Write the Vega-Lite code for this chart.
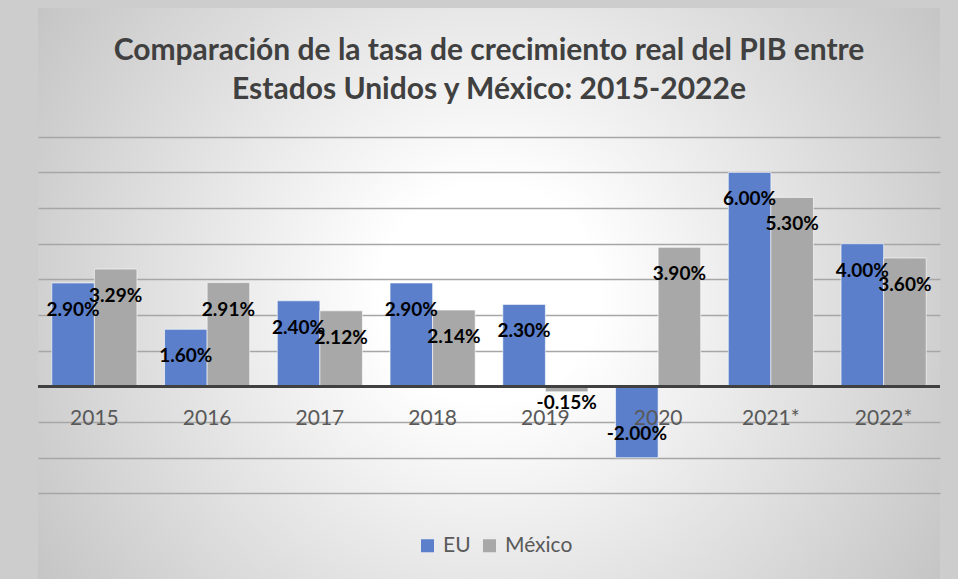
{
  "$schema": "https://vega.github.io/schema/vega-lite/v6.json",
  "width": 902,
  "height": 571,
  "autosize": {"type": "none"},
  "padding": {"left": 38, "top": 8, "right": 18, "bottom": 0},
  "background": "#cdcdcd",
  "view": {
    "stroke": null,
    "fill": {
      "gradient": "radial",
      "x1": 0.5, "y1": 0.5, "r1": 0,
      "x2": 0.5, "y2": 0.5, "r2": 0.6,
      "stops": [
        {"offset": 0, "color": "#ffffff"},
        {"offset": 0.2, "color": "#ffffff"},
        {"offset": 1, "color": "#c4c4c4"}
      ]
    }
  },
  "title": {
    "text": ["Comparación de la tasa de crecimiento real del PIB entre", "Estados Unidos y México: 2015-2022e"],
    "font": "Lato",
    "fontSize": 30,
    "fontWeight": "bold",
    "color": "#404040",
    "lineHeight": 39,
    "anchor": "middle",
    "frame": "group",
    "offset": -97
  },
  "config": {
    "locale": {
      "number": {"decimal": ".", "thousands": ",", "grouping": [3], "currency": ["$", ""], "minus": "-"}
    }
  },
  "data": {
    "values": [
      {"year": "2015", "series": "EU", "value": 0.029},
      {"year": "2015", "series": "México", "value": 0.0329},
      {"year": "2016", "series": "EU", "value": 0.016},
      {"year": "2016", "series": "México", "value": 0.0291},
      {"year": "2017", "series": "EU", "value": 0.024},
      {"year": "2017", "series": "México", "value": 0.0212},
      {"year": "2018", "series": "EU", "value": 0.029},
      {"year": "2018", "series": "México", "value": 0.0214},
      {"year": "2019", "series": "EU", "value": 0.023},
      {"year": "2019", "series": "México", "value": -0.0015},
      {"year": "2020", "series": "EU", "value": -0.02},
      {"year": "2020", "series": "México", "value": 0.039},
      {"year": "2021*", "series": "EU", "value": 0.06},
      {"year": "2021*", "series": "México", "value": 0.053},
      {"year": "2022*", "series": "EU", "value": 0.04},
      {"year": "2022*", "series": "México", "value": 0.036}
    ]
  },
  "layer": [
    {
      "mark": {"type": "bar", "stroke": "#ffffff", "strokeWidth": 1, "strokeOpacity": 0.6},
      "encoding": {
        "x": {"field": "year", "type": "nominal", "sort": null, "axis": null,
              "scale": {"paddingInner": 0.245, "paddingOuter": 0.1225}},
        "xOffset": {"field": "series", "type": "nominal", "sort": ["EU", "México"], "scale": {"paddingInner": 0}},
        "y": {"field": "value", "type": "quantitative",
              "scale": {"domain": [-0.054, 0.1061], "nice": false, "zero": false},
              "axis": {"values": [-0.03, -0.02, -0.01, 0.01, 0.02, 0.03, 0.04, 0.05, 0.06, 0.07],
                       "grid": true, "gridColor": "#a6a6a6", "gridWidth": 1.3,
                       "labels": false, "ticks": false, "domain": false, "title": null}},
        "color": {"field": "series", "type": "nominal",
                  "scale": {"domain": ["EU", "México"], "range": ["#5b7fca", "#a8a8a8"]},
                  "legend": {"orient": "none", "legendX": 379, "legendY": 527, "direction": "horizontal", "title": null,
                             "symbolType": "square", "symbolSize": 169, "symbolStrokeWidth": 0,
                             "labelFont": "Lato", "labelFontSize": 21, "labelColor": "#595959",
                             "labelOffset": 5, "columnPadding": 8}}
      }
    },
    {
      "mark": {"type": "rule", "color": "#404040", "strokeWidth": 3},
      "encoding": {"y": {"datum": 0}}
    },
    {
      "mark": {"type": "text", "font": "Lato", "fontWeight": "bold", "fontSize": 19, "color": "#000000",
               "baseline": "middle", "align": "center",
               "dy": {"expr": "datum.value >= 0 ? 27 : (datum.value > -0.01 ? 11 : -24)"}},
      "encoding": {
        "x": {"field": "year", "type": "nominal", "sort": null, "axis": null},
        "xOffset": {"field": "series", "type": "nominal", "sort": ["EU", "México"]},
        "y": {"field": "value", "type": "quantitative"},
        "text": {"field": "value", "type": "quantitative", "format": ".2%"}
      }
    },
    {
      "transform": [{"filter": "datum.series == 'EU'"}],
      "mark": {"type": "text", "font": "Lato", "fontSize": 21, "color": "#595959", "baseline": "middle", "align": "center", "dy": 33},
      "encoding": {
        "x": {"field": "year", "type": "nominal", "sort": null, "axis": null},
        "y": {"datum": 0},
        "text": {"field": "year", "type": "nominal"}
      }
    }
  ]
}
